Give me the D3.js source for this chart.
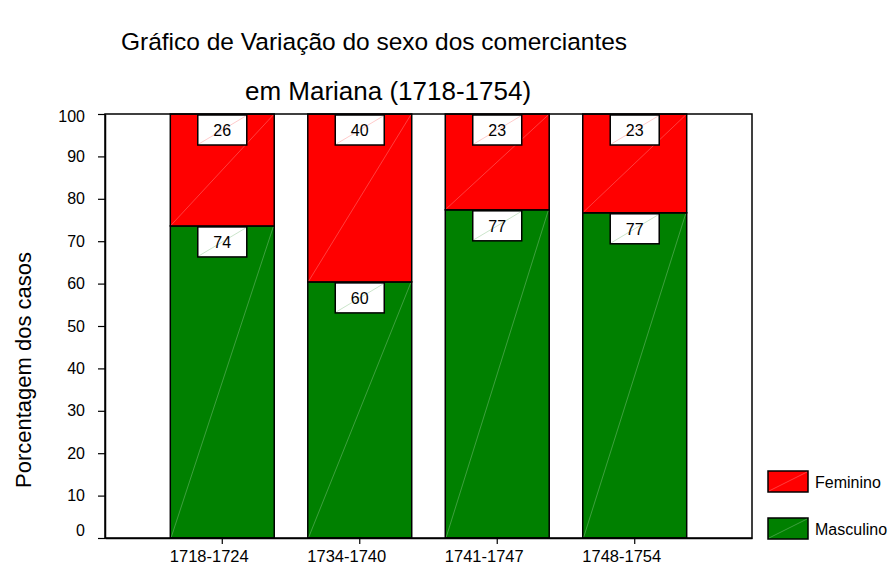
<!DOCTYPE html>
<html>
<head>
<meta charset="utf-8">
<script src="https://cdn.jsdelivr.net/npm/d3@7"></script>
<style>
  body { margin: 0; background: #fff; }
  text { font-family: "Liberation Sans", Arial, sans-serif; fill: #000; }
</style>
</head>
<body>
<div class="chart"></div>
<script>
// Stacked percentage bars: sex of merchants in Mariana

var periods = ["1718-1724", "1734-1740", "1741-1747", "1748-1754"];
var masculino = [73.6, 60.4, 77.4, 76.7];
var feminino = [26.4, 39.6, 22.6, 23.3];
var yTicks = [0, 10, 20, 30, 40, 50, 60, 70, 80, 90, 100];
var seriesNames = ["Feminino", "Masculino"];
var seriesColors = ["#ff0000", "#008000"];

var svgWidth = 895;
var svgHeight = 568;

var margin = { top: 114, right: 143, bottom: 30, left: 105 };
var width = svgWidth - margin.left - margin.right;
var height = svgHeight - margin.top - margin.bottom;

var svg = d3.select(".chart")
  .append("svg")
  .attr("width", svgWidth)
  .attr("height", svgHeight);

var chartGroup = svg.append("g")
  .attr("transform", `translate(${margin.left}, ${margin.top})`);

var rows = periods.map(function(p, i) {
  return { period: p, Masculino: masculino[i], Feminino: feminino[i] };
});

var xScale = d3.scaleBand()
  .domain(periods)
  .range([0, width])
  .paddingInner(0.244)
  .paddingOuter(0.475);

var yScale = d3.scaleLinear()
  .domain([0, 100])
  .range([height, 0]);

var stack = d3.stack().keys(["Masculino", "Feminino"]);
var stacked = stack(rows);

// bars
stacked.forEach(function(layer) {
  var color = seriesColors[seriesNames.indexOf(layer.key)];
  var g = chartGroup.append("g");

  g.selectAll("rect")
    .data(layer)
    .enter()
    .append("rect")
    .attr("x", d => xScale(d.data.period))
    .attr("y", d => yScale(d[1]))
    .attr("width", xScale.bandwidth())
    .attr("height", d => yScale(d[0]) - yScale(d[1]))
    .attr("fill", color)
    .attr("stroke", "#000")
    .attr("stroke-width", 1.5);

  // faint diagonal left by the original renderer
  g.selectAll("line")
    .data(layer)
    .enter()
    .append("line")
    .attr("x1", d => xScale(d.data.period) + 1)
    .attr("y1", d => yScale(d[0]) - 1)
    .attr("x2", d => xScale(d.data.period) + xScale.bandwidth() - 1)
    .attr("y2", d => yScale(d[1]) + 1)
    .attr("stroke", "#fff")
    .attr("stroke-opacity", 0.35)
    .attr("stroke-width", 0.7);

  // value boxes at the top of each segment
  var boxW = 49, boxH = 30;
  var labels = g.selectAll("g.lbl")
    .data(layer)
    .enter()
    .append("g")
    .attr("class", "lbl")
    .attr("transform", d => `translate(${xScale(d.data.period) + xScale.bandwidth() / 2 - boxW / 2}, ${yScale(d[1]) + 1})`);

  labels.append("rect")
    .attr("width", boxW)
    .attr("height", boxH)
    .attr("fill", "#fff")
    .attr("stroke", "#000")
    .attr("stroke-width", 1.5);

  labels.append("line")
    .attr("x1", 1).attr("y1", boxH - 1)
    .attr("x2", boxW - 1).attr("y2", 1)
    .attr("stroke", color)
    .attr("stroke-opacity", 0.3)
    .attr("stroke-width", 0.7);

  labels.append("text")
    .attr("x", boxW / 2)
    .attr("y", boxH / 2)
    .attr("dy", "0.36em")
    .attr("text-anchor", "middle")
    .style("font-size", "16px")
    .text(d => Math.round(d[1] - d[0]));
});

// frame
chartGroup.append("rect")
  .attr("width", width)
  .attr("height", height)
  .attr("fill", "none")
  .attr("stroke", "#000")
  .attr("stroke-width", 1.5);

// axes
var leftAxis = d3.axisLeft(yScale)
  .tickValues(yTicks)
  .tickSize(7)
  .tickPadding(13)
  .tickSizeOuter(0);

var yAxis = chartGroup.append("g").call(leftAxis);
yAxis.select(".domain").attr("stroke-width", 1.5);
yAxis.selectAll("line").attr("stroke-width", 1.2);
yAxis.selectAll("text")
  .style("font-size", "16px")
  .style("font-family", "'Liberation Sans', Arial, sans-serif")
  .attr("y", d => d === 0 ? -8 : (d === 100 ? 2 : 0));

var bottomAxis = d3.axisBottom(xScale)
  .tickSize(6)
  .tickPadding(6)
  .tickSizeOuter(0);

var xAxis = chartGroup.append("g")
  .attr("transform", `translate(0, ${height})`)
  .call(bottomAxis);
xAxis.select(".domain").attr("stroke-width", 1.5);
xAxis.selectAll("line").attr("stroke-width", 1.2);
xAxis.selectAll("text")
  .attr("x", -13)
  .style("font-size", "16.5px")
  .style("font-family", "'Liberation Sans', Arial, sans-serif");

// y axis label
svg.append("text")
  .attr("transform", "rotate(-90)")
  .attr("x", -370)
  .attr("y", 31)
  .attr("text-anchor", "middle")
  .style("font-size", "22px")
  .text("Porcentagem dos casos");

// title
svg.append("text")
  .attr("x", 374)
  .attr("y", 50)
  .attr("text-anchor", "middle")
  .style("font-size", "24.5px")
  .text("Gráfico de Variação do sexo dos comerciantes");

svg.append("text")
  .attr("x", 388)
  .attr("y", 100)
  .attr("text-anchor", "middle")
  .style("font-size", "26px")
  .text("em Mariana (1718-1754)");

// legend
var legend = svg.append("g")
  .attr("transform", "translate(768, 471)");

var legendItems = legend.selectAll("g")
  .data(seriesNames)
  .enter()
  .append("g")
  .attr("transform", (d, i) => `translate(0, ${i * 47})`);

legendItems.append("rect")
  .attr("width", 40)
  .attr("height", 21)
  .attr("fill", (d, i) => seriesColors[i])
  .attr("stroke", "#000")
  .attr("stroke-width", 1.5);

legendItems.append("line")
  .attr("x1", 1).attr("y1", 20)
  .attr("x2", 39).attr("y2", 1)
  .attr("stroke", "#fff")
  .attr("stroke-opacity", 0.35)
  .attr("stroke-width", 0.7);

legendItems.append("text")
  .attr("x", 47)
  .attr("y", 11)
  .attr("dy", "0.36em")
  .style("font-size", "16px")
  .text(d => d);
</script>
</body>
</html>
